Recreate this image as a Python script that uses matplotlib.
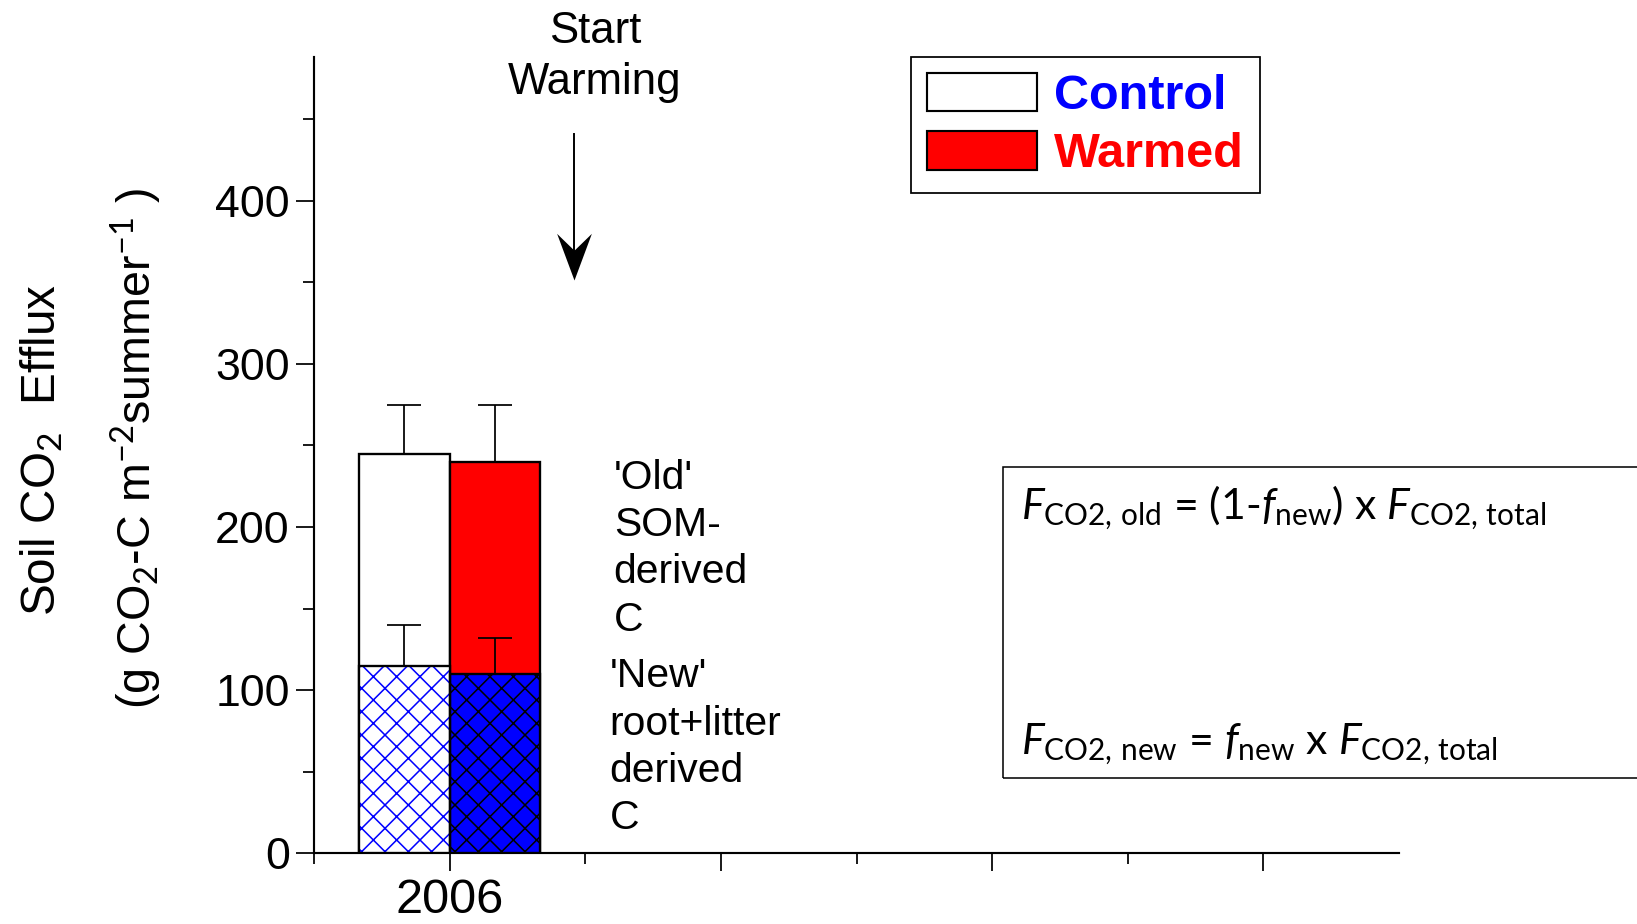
import numpy as np
import matplotlib
matplotlib.use('Agg')
import matplotlib.pyplot as plt
from matplotlib.patches import Patch, Rectangle
from matplotlib.path import Path

plt.rcParams['font.family'] = ['Liberation Sans', 'DejaVu Sans']
plt.rcParams['mathtext.fontset'] = 'custom'
plt.rcParams['mathtext.rm'] = 'Lato'
plt.rcParams['mathtext.it'] = 'Lato:italic'
plt.rcParams['mathtext.bf'] = 'Lato:bold'
plt.rcParams['hatch.linewidth'] = 0.8

# summer soil CO2 efflux (g CO2-C m-2 summer-1), upper error only
years = [2006]
control_total = [245]
control_total_err = [30]
control_new = [115]
control_new_err = [25]
warmed_total = [240]
warmed_total_err = [35]
warmed_new = [110]
warmed_new_err = [22]

year_ticks = [2006, 2007, 2008, 2009]
year_labels = ['2006', '', '', '']

DPI = 140
fig = plt.figure(figsize=(1637 / DPI, 924 / DPI), dpi=DPI)
ax = fig.add_axes([314 / 1637, 1 - 853.3 / 924, (1399 - 314) / 1637, (853.3 - 57) / 924])

x = np.array(years, dtype=float)
w = 0.335
xc = x - w / 2
xw = x + w / 2

# total flux bars
ax.bar(xc, control_total, w, color='white', edgecolor='black', lw=1.2, zorder=2)
ax.bar(xw, warmed_total, w, color='#ff0000', edgecolor='black', lw=1.2, zorder=2)

# new-carbon fraction, hatched (hatch colour comes from edgecolor)
ax.bar(xc, control_new, w, color='white', edgecolor='#0000ff', hatch='xx', lw=0, zorder=3)
ax.bar(xw, warmed_new, w, color='#0000ff', edgecolor='black', hatch='xx', lw=0, zorder=3)
ax.bar(xc, control_new, w, fill=False, edgecolor='black', lw=1.2, zorder=4)
ax.bar(xw, warmed_new, w, fill=False, edgecolor='black', lw=1.2, zorder=4)

ekw = dict(fmt='none', ecolor='black', elinewidth=0.9, capsize=8.5, capthick=0.9, zorder=5)
for xs, val, err in [(xc, control_total, control_total_err),
                     (xw, warmed_total, warmed_total_err),
                     (xc, control_new, control_new_err),
                     (xw, warmed_new, warmed_new_err)]:
    ax.errorbar(xs, val, yerr=[np.zeros(len(err)), err], **ekw)

ax.set_xlim(2005.5, 2009.5)
ax.set_ylim(0, 488)
ax.set_xticks(year_ticks)
ax.set_xticklabels(year_labels)
ax.set_xticks([2005.5, 2006.5, 2007.5, 2008.5], minor=True)
ax.set_yticks([0, 100, 200, 300, 400])
ax.set_yticks([50, 150, 250, 350, 450], minor=True)
ax.tick_params(axis='both', which='major', direction='out', length=9.5, width=0.9, color='black')
ax.tick_params(axis='both', which='minor', direction='out', length=5.5, width=0.9, color='black')
ax.tick_params(axis='y', labelsize=23, pad=3)
ax.tick_params(axis='x', labelsize=25, pad=3)
for s in ['top', 'right']:
    ax.spines[s].set_visible(False)
for s in ['left', 'bottom']:
    ax.spines[s].set_linewidth(1.1)

# y-axis title, two lines
fig.text(42 / 1637, 1 - 450 / 924, 'Soil CO$_2$  Efflux', rotation=90,
         ha='center', va='center', fontsize=24.5)
fig.text(136 / 1637, 1 - 449 / 924, '(g CO$_2$-C m$^{-2}$summer$^{-1}$ )', rotation=90,
         ha='center', va='center', fontsize=24)

# start-of-warming marker
arrow_x = 2006.46
ax.text(2006.535, 488, 'Start\nWarming', ha='center', va='center', fontsize=22.5,
        linespacing=1.3, clip_on=False)
ax.plot([arrow_x, arrow_x], [441, 365], color='black', lw=1.0, clip_on=False)
head = Path([(0, 0), (-17.5, 47), (0, 30), (17.5, 47), (0, 0)],
            [Path.MOVETO, Path.LINETO, Path.LINETO, Path.LINETO, Path.CLOSEPOLY])
ax.plot([arrow_x], [351.5], marker=head, markersize=48, color='black', mec='black',
        mew=0, clip_on=False)

# source labels beside the bars
ax.text(2006.605, 186.7, "'Old'\nSOM-\nderived\nC", ha='left', va='center',
        fontsize=21, linespacing=1.31)
ax.text(2006.59, 65, "'New'\nroot+litter\nderived\nC", ha='left', va='center',
        fontsize=21, linespacing=1.31)

# partitioning equations
ax.add_patch(Rectangle((2008.04, 46.2), 5, 237 - 46.2, fill=False, edgecolor='black',
                       lw=0.8, clip_on=False))
ax.text(2008.108, 205, r'$F_{\mathrm{CO2,\,old}}$ = (1-$f_{\mathrm{new}}$) x $F_{\mathrm{CO2,\,total}}$',
        ha='left', va='baseline', fontsize=22, family='Lato')
ax.text(2008.108, 61, r'$F_{\mathrm{CO2,\,new}}$ = $f_{\mathrm{new}}$ x $F_{\mathrm{CO2,\,total}}$',
        ha='left', va='baseline', fontsize=22, family='Lato')

handles = [Patch(facecolor='white', edgecolor='black', lw=1.1),
           Patch(facecolor='#ff0000', edgecolor='black', lw=1.1)]
leg = fig.legend(handles, ['Control', 'Warmed'], loc='upper left',
                 bbox_to_anchor=(911 / 1637, 1 - 57 / 924),
                 prop={'weight': 'bold', 'size': 25}, labelcolor=['#0000ff', '#ff0000'],
                 fancybox=False, edgecolor='black', framealpha=1,
                 handlelength=2.26, handleheight=0.84, handletextpad=0.35,
                 borderpad=0.33, labelspacing=0.25, borderaxespad=0)
leg.get_frame().set_linewidth(0.9)

fig.savefig('out.png', dpi=DPI)
